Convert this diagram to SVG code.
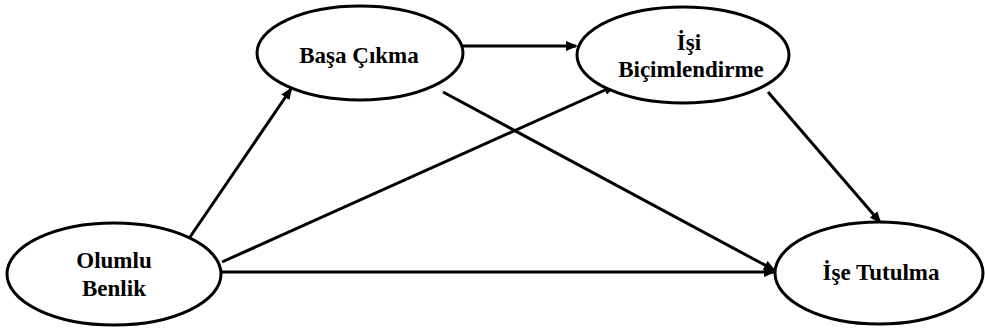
<svg xmlns="http://www.w3.org/2000/svg" width="985" height="331" viewBox="0 0 985 331">
<style>
.n{fill:#fff;stroke:#000;stroke-width:3}
.t{font-family:"Liberation Serif","Times New Roman","DejaVu Serif",serif;font-weight:bold;font-size:23px;text-anchor:middle;fill:#000}
.c{stroke:#000;stroke-width:3;fill:none;marker-end:url(#ah)}
</style>
<defs>
<marker id="ah" markerWidth="12" markerHeight="10" refX="10" refY="5" orient="auto" markerUnits="userSpaceOnUse">
<path d="M0,0 L12,5 L0,10 Z" fill="#000"/>
</marker>
</defs>
<rect width="985" height="331" fill="#fff"/>
<g id="connectors">
<line class="c" x1="190" y1="237" x2="291" y2="89"/>
<line class="c" x1="222" y1="262" x2="614" y2="86"/>
<line class="c" x1="222" y1="272" x2="774" y2="272"/>
<line class="c" x1="463" y1="46" x2="576" y2="46"/>
<line class="c" x1="443" y1="92" x2="774" y2="270"/>
<line class="c" x1="768" y1="92" x2="880" y2="222"/>
</g>
<g id="basa">
<ellipse class="n" cx="360" cy="53" rx="103" ry="47"/>
<text class="t" x="359" y="63">Başa Çıkma</text>
</g>
<g id="isi">
<ellipse class="n" cx="683" cy="55" rx="106" ry="48"/>
<text class="t" x="689" y="50">İşi</text>
<text class="t" x="691" y="77">Biçimlendirme</text>
</g>
<g id="olumlu">
<ellipse class="n" cx="114" cy="274" rx="107" ry="51"/>
<text class="t" x="114" y="268">Olumlu</text>
<text class="t" x="114" y="296">Benlik</text>
</g>
<g id="ise">
<ellipse class="n" cx="879" cy="273" rx="104" ry="51"/>
<text class="t" x="881" y="280">İşe Tutulma</text>
</g>
</svg>
